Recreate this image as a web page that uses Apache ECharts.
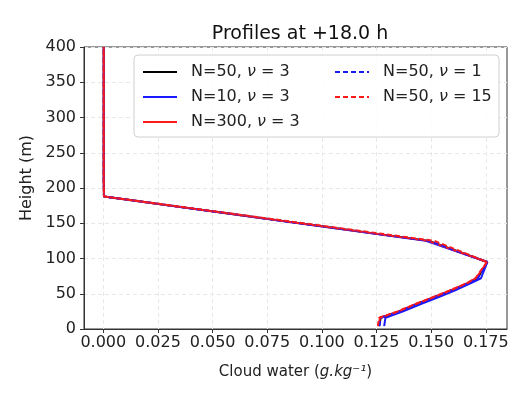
<!DOCTYPE html>
<html>
<head>
<meta charset="utf-8">
<script src="https://cdn.jsdelivr.net/npm/echarts@6/dist/echarts.min.js"></script>
<style>
  html, body { margin: 0; padding: 0; background: #fff; }
  #chart { width: 523px; height: 393px; }
</style>
</head>
<body>
<div id="chart"></div>
<script>
// heights (m) shared by all profiles
const heights = [4, 16, 25, 35, 45, 55, 65, 72, 95, 125, 188, 215, 400];

// cloud water (g/kg) for each run
const n50nu3   = [0.1262, 0.1269, 0.1355, 0.1430, 0.1515, 0.1595, 0.1670, 0.1712, 0.1757, 0.1490, 0.0003, 0.0002, 0.0002];
const n10nu3   = [0.1285, 0.1291, 0.1372, 0.1450, 0.1532, 0.1610, 0.1682, 0.1728, 0.1757, 0.1476, 0.0003, 0.0002, 0.0002];
const n300nu3  = [0.1259, 0.1266, 0.1350, 0.1425, 0.1510, 0.1590, 0.1665, 0.1705, 0.1756, 0.1486, 0.0003, 0.0002, 0.0002];
const n50nu1   = [0.1263, 0.1270, 0.1356, 0.1432, 0.1516, 0.1596, 0.1671, 0.1713, 0.1757, 0.1492, 0.0003, 0.0002, 0.0002];
const n50nu15  = [0.1256, 0.1262, 0.1348, 0.1424, 0.1508, 0.1588, 0.1663, 0.1703, 0.1755, 0.1515, 0.0003, 0.0002, 0.0002];

const xTicks = [0, 0.025, 0.05, 0.075, 0.1, 0.125, 0.15, 0.175];

const runs = [
  { name: 'N=50, ν = 3',  values: n50nu3,  color: '#000000', dash: 'solid' },
  { name: 'N=10, ν = 3',  values: n10nu3,  color: '#1a1aff', dash: 'solid' },
  { name: 'N=300, ν = 3', values: n300nu3, color: '#ff1a1a', dash: 'solid' },
  { name: 'N=50, ν = 1',  values: n50nu1,  color: '#1a1aff', dash: [5, 3] },
  { name: 'N=50, ν = 15', values: n50nu15, color: '#ff1a1a', dash: [5, 3] }
];

const chart = echarts.init(document.getElementById('chart'));
const font = 'DejaVu Sans';

function makeLegend(left, names) {
  return {
    orient: 'vertical',
    left: left,
    top: 59,
    data: names,
    itemWidth: 34,
    itemHeight: 14,
    itemGap: 9,
    z: 10,
    itemStyle: { opacity: 0, borderWidth: 0 },
    formatter: name => name.replace('ν', '{i|ν}'),
    textStyle: {
      fontFamily: font, fontSize: 16, color: '#222', padding: [0, 0, 0, 9],
      rich: { i: { fontFamily: font, fontSize: 16, fontStyle: 'italic', color: '#222' } }
    }
  };
}

const option = {
  animation: false,
  backgroundColor: '#fff',
  title: {
    text: 'Profiles at +18.0 h',
    left: 295,
    textAlign: 'center',
    top: 20,
    textStyle: { fontFamily: font, fontSize: 19, fontWeight: 'normal', color: '#111' }
  },
  graphic: [{
    type: 'rect',
    shape: { x: 134, y: 55, width: 365, height: 82, r: 4 },
    style: { fill: 'rgba(255,255,255,0.85)', stroke: '#d0d0d0', lineWidth: 1 },
    z: 5
  }],
  legend: [
    makeLegend(137, runs.slice(0, 3).map(r => r.name)),
    makeLegend(329, runs.slice(3).map(r => r.name))
  ],
  grid: {
    left: 84, right: 16, top: 47, bottom: 64,
    show: true, borderColor: '#333', borderWidth: 1, backgroundColor: 'transparent'
  },
  xAxis: {
    type: 'value',
    min: -0.00883,
    max: 0.1847,
    name: '{n|Cloud water (}{i|g.kg⁻¹}{n|)}',
    nameLocation: 'middle',
    nameGap: 36,
    nameTextStyle: {
      rich: {
        n: { fontFamily: font, fontSize: 15, color: '#222' },
        i: { fontFamily: font, fontSize: 15, fontStyle: 'italic', color: '#222' }
      }
    },
    axisLine: { show: true, onZero: false, lineStyle: { color: '#333' } },
    axisTick: { show: true, customValues: xTicks, length: 4, lineStyle: { color: '#333' } },
    axisLabel: {
      customValues: xTicks, margin: 6,
      fontFamily: font, fontSize: 16, color: '#222',
      formatter: v => v.toFixed(3)
    },
    splitLine: { show: true, customValues: xTicks, lineStyle: { color: '#e8e8e8', type: [4, 3] } }
  },
  yAxis: {
    type: 'value',
    min: 0,
    max: 400,
    interval: 50,
    name: 'Height (m)',
    nameLocation: 'middle',
    nameGap: 46,
    nameTextStyle: { fontFamily: font, fontSize: 16, color: '#222', padding: [0, 0, 0, 20] },
    axisLine: { show: true, onZero: false, lineStyle: { color: '#333' } },
    axisTick: { show: true, length: 4, lineStyle: { color: '#333' } },
    axisLabel: { margin: 8, fontFamily: font, fontSize: 16, color: '#222' },
    splitLine: { show: true, lineStyle: { color: '#e8e8e8', type: [4, 3] } }
  },
  series: runs.map(r => ({
    name: r.name,
    type: 'line',
    data: r.values.map((v, i) => [v, heights[i]]),
    symbol: 'none',
    lineStyle: { color: r.color, width: 2, type: r.dash },
    itemStyle: { color: r.color }
  }))
};

chart.setOption(option);
</script>
</body>
</html>
